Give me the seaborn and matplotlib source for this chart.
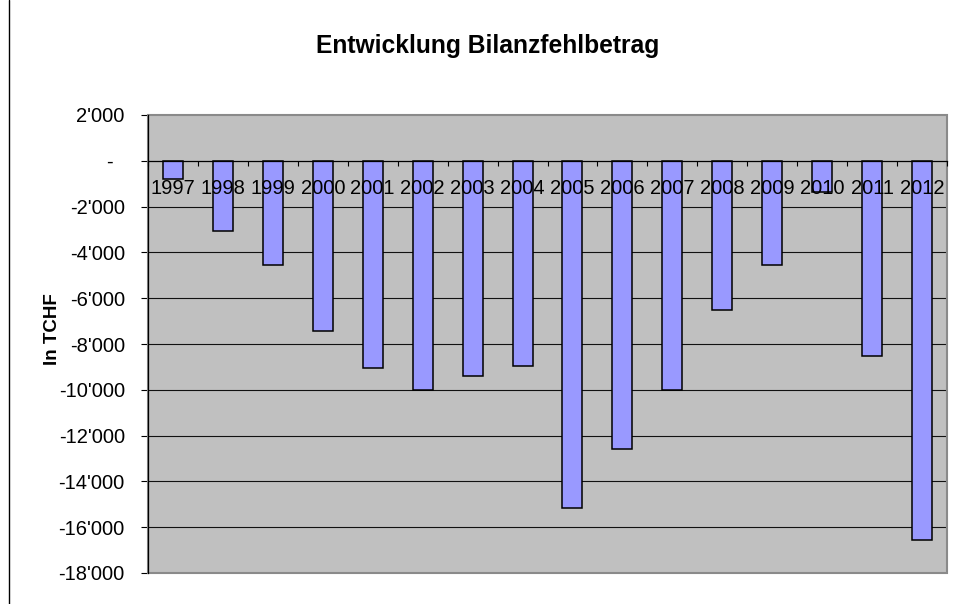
import matplotlib
matplotlib.use("Agg")
import matplotlib.pyplot as plt
import seaborn as sns
import pandas as pd
from matplotlib.patches import Rectangle
from matplotlib.lines import Line2D
from matplotlib.ticker import FixedLocator

years = ["1997", "1998", "1999", "2000", "2001", "2002", "2003", "2004",
         "2005", "2006", "2007", "2008", "2009", "2010", "2011", "2012"]
values = [-800, -3050, -4570, -7420, -9060, -10030, -9380, -8970,
          -15140, -12600, -10030, -6510, -4570, -1380, -8540, -16550]
y_ticks = [2000, 0, -2000, -4000, -6000, -8000, -10000, -12000,
           -14000, -16000, -18000]
y_tick_labels = ["2'000", "-  ", "-2'000", "-4'000", "-6'000", "-8'000",
                 "-10'000", "-12'000", "-14'000", "-16'000", "-18'000"]
title = "Entwicklung Bilanzfehlbetrag"
y_label = "In TCHF"

sns.set_style("white")
plt.rcParams["font.family"] = ["Liberation Sans", "DejaVu Sans"]
plt.rcParams["text.color"] = "black"
plt.rcParams["axes.labelcolor"] = "black"
plt.rcParams["xtick.color"] = "black"
plt.rcParams["ytick.color"] = "black"

df = pd.DataFrame({"Jahr": years, "Wert": values})

fig = plt.figure(figsize=(9.54, 6.04), dpi=100)
ax = fig.add_axes([148 / 954, 1 - 573 / 604, (947 - 148) / 954, (573 - 115) / 604])
ax.set_facecolor("#C0C0C0")

sns.barplot(data=df, x="Jahr", y="Wert", color="#9999FF", width=0.4,
            edgecolor="black", linewidth=1.1, saturation=1, ax=ax, zorder=1)

ax.set_ylim(-18000, 2000)
ax.set_xlim(-0.5, len(years) - 0.5)

# gridlines below bars
for v in y_ticks[2:-1]:
    ax.axhline(v, color="#111111", linewidth=0.8, zorder=0.5)

ax.set_yticks(y_ticks)
ax.set_yticklabels(y_tick_labels, fontsize=14.5, color="black")
ax.tick_params(axis="y", direction="out", length=4.7, width=0.8, pad=12,
               colors="black", left=True)

# category axis at zero
ax.spines["bottom"].set_position(("data", 0))
ax.spines["bottom"].set_color("black")
ax.spines["bottom"].set_linewidth(0.9)
ax.spines["bottom"].set_zorder(3)
ax.spines["left"].set_color("black")
ax.spines["left"].set_linewidth(0.9)
ax.spines["top"].set_visible(False)
ax.spines["right"].set_visible(False)
ax.xaxis.set_minor_locator(FixedLocator([i + 0.5 for i in range(-1, len(years))]))
ax.tick_params(axis="x", which="major", length=0, pad=13, labelsize=14.5,
               bottom=True, labelcolor="black")
ax.tick_params(axis="x", which="minor", direction="out", length=3.4,
               width=0.8, bottom=True, color="black")
ax.xaxis.set_zorder(3)
ax.set_xlabel("")
ax.set_ylabel(y_label, fontsize=13.5, fontweight="bold", color="black")
ax.yaxis.set_label_coords(-0.109, 0.533)

# plot area border (gray)
ax.add_patch(Rectangle((0, 0), 1, 1, transform=ax.transAxes, fill=False,
                       edgecolor="#8a8a8a", linewidth=1.5, clip_on=False,
                       zorder=2))
ax.spines["left"].set_zorder(4)

fig.text(488 / 954, 1 - 53.3 / 604, title, ha="center", va="baseline",
         fontsize=17.7, fontweight="bold", color="black")

fig.add_artist(Line2D([9.3 / 954, 9.3 / 954], [0, 1], color="black",
                      linewidth=1.0, transform=fig.transFigure))

fig.savefig("out.png", dpi=100)
